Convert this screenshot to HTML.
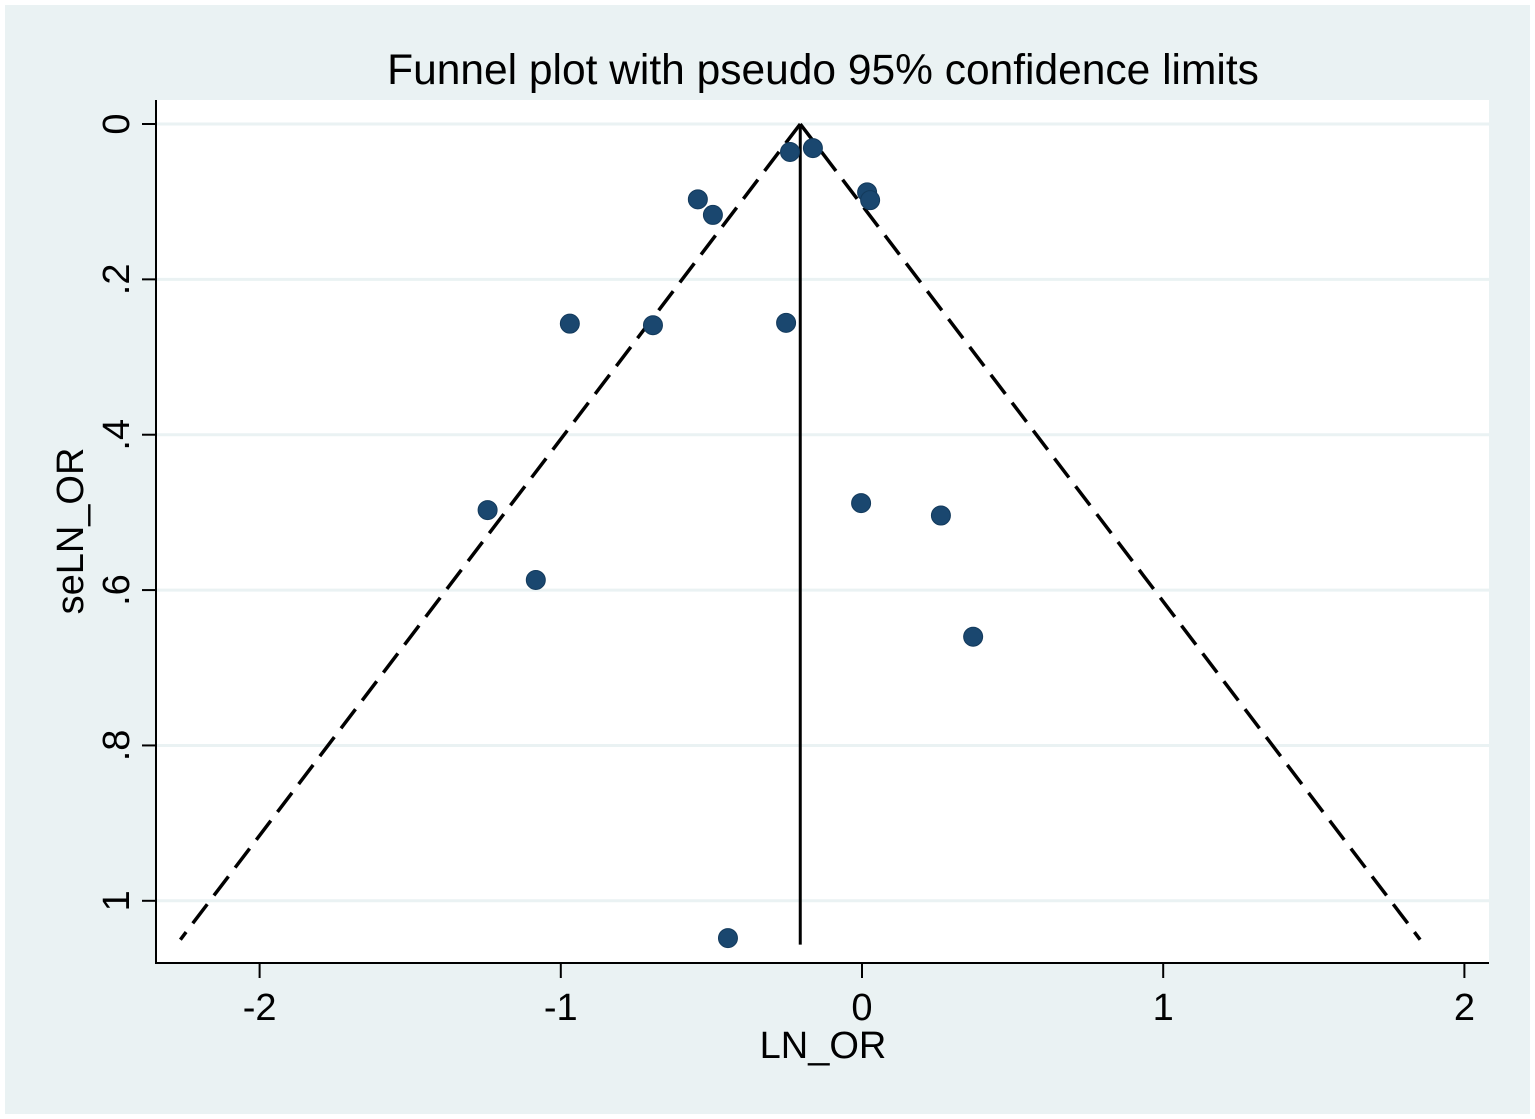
<!DOCTYPE html>
<html><head><meta charset="utf-8"><style>
html,body{margin:0;padding:0;background:#fff;}
svg{display:block;}
text{font-family:"Liberation Sans",sans-serif;fill:#000;}
</style></head><body>
<svg id="chart" width="1535" height="1119" xmlns="http://www.w3.org/2000/svg">
<rect x="5" y="5" width="1525" height="1109" fill="#eaf2f3"/>
<rect x="156" y="100" width="1333" height="863" fill="#fff"/>
<text x="823" y="84" font-size="42.5" text-anchor="middle">Funnel plot with pseudo 95% confidence limits</text>
<text x="823" y="1058" font-size="38" text-anchor="middle">LN_OR</text>
<text transform="translate(83,531) rotate(-90)" font-size="38" text-anchor="middle">seLN_OR</text>
<g id="grid"></g><g id="axes"></g><g id="funnel"></g><g id="points"></g>
</svg>
<script>
const xTicks=[-2,-1,0,1,2];
const xTickLabels=["-2","-1","0","1","2"];
const yTicks=[0,0.2,0.4,0.6,0.8,1];
const yTickLabels=["0",".2",".4",".6",".8","1"];
const pooledEffect=[-0.205];
const maxSE=[1.05];
const lnOR=[-0.239,-0.163,-0.545,-0.495,0.017,0.027,-0.970,-0.694,-0.252,-1.243,-1.083,-0.003,0.262,0.369,-0.445];
const seLnOR=[0.036,0.031,0.097,0.117,0.088,0.098,0.257,0.259,0.256,0.497,0.587,0.488,0.504,0.660,1.048];

const NS="http://www.w3.org/2000/svg";
function X(v){return 862+v*301.2;}
function Y(v){return 124+v*776.8;}
function mk(tag,attrs,parent){const e=document.createElementNS(NS,tag);for(const k in attrs)e.setAttribute(k,attrs[k]);document.getElementById(parent).appendChild(e);return e;}

yTicks.forEach((t,i)=>{
  const g=mk('line',{x1:157,x2:1489,y1:Y(t),y2:Y(t),stroke:'#eaf2f3','stroke-width':3},'grid');
  
  
  const tk=mk('line',{x1:142,x2:156,y1:Y(t),y2:Y(t),stroke:'#000','stroke-width':2},'axes');
  
  
  const tl=mk('text',{transform:`translate(129,${Y(t)}) rotate(-90)`,'font-size':38,'text-anchor':'middle'},'axes');
  tl.textContent=yTickLabels[i];
  
  
});
xTicks.forEach((t,i)=>{
  const tk=mk('line',{x1:X(t),x2:X(t),y1:963,y2:978,stroke:'#000','stroke-width':2},'axes');
  
  
  const tl=mk('text',{x:X(t),y:1020,'font-size':38,'text-anchor':'middle'},'axes');
  tl.textContent=xTickLabels[i];
  
  
});
const ya=mk('line',{x1:156,x2:156,y1:100,y2:964,stroke:'#000','stroke-width':2},'axes');


const xa=mk('line',{x1:155,x2:1489,y1:963,y2:963,stroke:'#000','stroke-width':2},'axes');



const c=pooledEffect[0],m=maxSE[0];
const lf=mk('line',{x1:X(c),y1:Y(0),x2:X(c-1.96*m),y2:Y(m),stroke:'#000','stroke-width':3.5,'stroke-dasharray':'24 11'},'funnel');


const rf=mk('line',{x1:X(c),y1:Y(0),x2:X(c+1.96*m),y2:Y(m),stroke:'#000','stroke-width':3.5,'stroke-dasharray':'24 11'},'funnel');


const vl=mk('line',{x1:X(c),y1:Y(0),x2:X(c),y2:Y(m)+5,stroke:'#000','stroke-width':3},'funnel');



lnOR.forEach((v,i)=>{
  const p=mk('circle',{cx:X(v),cy:Y(seLnOR[i]),r:9.5,fill:'#1a476f',stroke:'#133a5c','stroke-width':1},'points');
  
  
});
</script>
</body></html>
